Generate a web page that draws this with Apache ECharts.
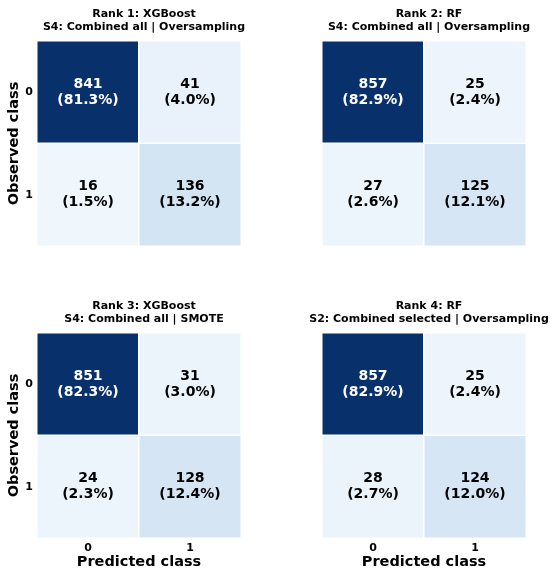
<!DOCTYPE html>
<html>
<head>
<meta charset="utf-8">
<script src="https://cdn.jsdelivr.net/npm/echarts@6/dist/echarts.min.js"></script>
<style>
  html, body { margin: 0; padding: 0; background: #fff; }
  #chart { width: 550px; height: 575px; }
</style>
</head>
<body>
<div id="chart"></div>
<script>
let chart = echarts.init(document.querySelector("#chart"))

// class labels (observed rows, predicted columns)
const classes = ['0', '1']

// panel titles
const titles = [
    'Rank 1: XGBoost\nS4: Combined all | Oversampling',
    'Rank 2: RF\nS4: Combined all | Oversampling',
    'Rank 3: XGBoost\nS4: Combined all | SMOTE',
    'Rank 4: RF\nS2: Combined selected | Oversampling'
]

// confusion matrices, [[TN, FP], [FN, TP]]
const cm1 = [[841, 41], [16, 136]]
const cm2 = [[857, 25], [27, 125]]
const cm3 = [[851, 31], [24, 128]]
const cm4 = [[857, 25], [28, 124]]
const matrices = [cm1, cm2, cm3, cm4]

const blues = ['#f7fbff', '#deebf7', '#c6dbef', '#9ecae1', '#6baed6', '#4292c6', '#2171b5', '#08519c', '#08306b']
const font = 'DejaVu Sans'

// panel boxes [left, top]
const boxes = [[37, 41], [322, 41], [37, 333], [322, 333]]
const cellW = 204, cellH = 205

let option = {
    animation: false,
    backgroundColor: '#fff',
    textStyle: { fontFamily: font },
    title: [],
    grid: [],
    xAxis: [],
    yAxis: [],
    visualMap: [],
    series: []
}

matrices.forEach((m, i) => {
    let [left, top] = boxes[i]
    let total = m[0][0] + m[0][1] + m[1][0] + m[1][1]
    let maxV = Math.max(m[0][0], m[0][1], m[1][0], m[1][1])
    let data = []
    for (let r = 0; r < 2; r++) {
        for (let c = 0; c < 2; c++) {
            let v = m[r][c]
            data.push({
                value: [c, r, v],
                label: { color: v / maxV > 0.5 ? '#fff' : '#000' }
            })
        }
    }
    let bottomRow = i >= 2
    let leftCol = i % 2 === 0

    option.title.push({
        text: titles[i],
        left: left + cellW / 2,
        top: 3 + (bottomRow ? 292 : 0),
        textAlign: 'center',
        textStyle: { fontFamily: font, fontSize: 11, fontWeight: 'bold', color: '#000', lineHeight: 13 }
    })
    option.grid.push({ left: left, top: top, width: cellW, height: cellH })
    option.xAxis.push({
        type: 'category',
        gridIndex: i,
        data: classes,
        axisLine: { show: false },
        axisTick: { show: false },
        splitLine: { show: false },
        axisLabel: { show: bottomRow, fontFamily: font, fontSize: 11, fontWeight: 'bold', color: '#000', margin: 5 },
        name: bottomRow ? 'Predicted class' : '',
        nameLocation: 'middle',
        nameGap: 17,
        nameTextStyle: { fontFamily: font, fontSize: 14.5, fontWeight: 'bold', color: '#000' }
    })
    option.yAxis.push({
        type: 'category',
        gridIndex: i,
        data: classes,
        inverse: true,
        axisLine: { show: false },
        axisTick: { show: false },
        splitLine: { show: false },
        axisLabel: { show: leftCol, fontFamily: font, fontSize: 11, fontWeight: 'bold', color: '#000', margin: 4 },
        name: leftCol ? 'Observed class' : '',
        nameLocation: 'middle',
        nameGap: 14,
        nameTextStyle: { fontFamily: font, fontSize: 14.5, fontWeight: 'bold', color: '#000' }
    })
    option.visualMap.push({
        show: false,
        seriesIndex: i,
        dimension: 2,
        min: -20,
        max: maxV,
        inRange: { color: blues }
    })
    option.series.push({
        type: 'heatmap',
        xAxisIndex: i,
        yAxisIndex: i,
        data: data,
        itemStyle: { borderColor: '#fff', borderWidth: 1.5 },
        label: {
            show: true,
            fontFamily: font,
            fontSize: 14,
            fontWeight: 'bold',
            lineHeight: 16,
            formatter: (p) => p.value[2] + '\n(' + (p.value[2] / total * 100).toFixed(1) + '%)'
        },
        emphasis: { disabled: true }
    })
})

chart.setOption(option)

window.onresize = function () {
    chart.resize();
}
</script>
</body>
</html>
